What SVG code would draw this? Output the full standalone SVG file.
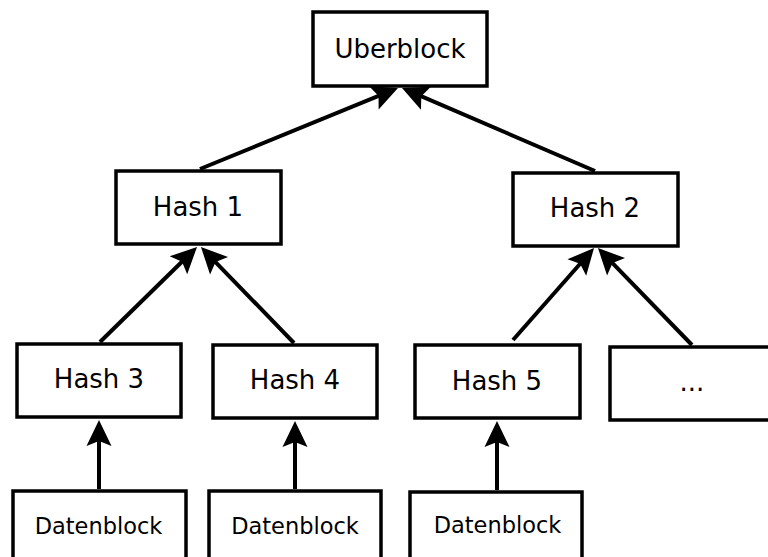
<svg xmlns="http://www.w3.org/2000/svg" width="768" height="557" viewBox="0 0 768 557">
<defs>
<style>
.box{fill:#fff;stroke:#000;stroke-width:3.5}
.lbl{font-family:"DejaVu Sans",sans-serif;font-size:26px;fill:#000;text-anchor:middle}
.small{font-size:22.5px}
.edge{stroke:#000;stroke-width:4;fill:none;marker-end:url(#arr)}
</style>
<marker id="arr" markerUnits="userSpaceOnUse" orient="auto" refX="0" refY="0" markerWidth="40" markerHeight="40" overflow="visible">
<path d="M15,0 L-11,-12.5 L-6,0 L-11,12.5 Z" fill="#000"/>
</marker>
</defs>
<rect width="768" height="557" fill="#fff"/>
<g id="connectors">
<line class="edge" x1="200" y1="169" x2="384.1" y2="93.7"/>
<line class="edge" x1="595" y1="171" x2="415.8" y2="93.9"/>
<line class="edge" x1="100" y1="342" x2="186.3" y2="257.5"/>
<line class="edge" x1="294" y1="343" x2="211.4" y2="257.8"/>
<line class="edge" x1="513" y1="340" x2="584.1" y2="259.3"/>
<line class="edge" x1="692" y1="345" x2="608.4" y2="258.8"/>
<line class="edge" x1="99" y1="489" x2="99" y2="435"/>
<line class="edge" x1="295" y1="489" x2="295" y2="436"/>
<line class="edge" x1="497" y1="490" x2="497" y2="436"/>
</g>
<g id="uberblock"><rect class="box" x="313" y="12" width="174" height="74"/><text class="lbl" x="400" y="58">Uberblock</text></g>
<g id="hash1"><rect class="box" x="116" y="171" width="165" height="73"/><text class="lbl" x="198" y="216">Hash 1</text></g>
<g id="hash2"><rect class="box" x="513" y="173" width="165" height="73"/><text class="lbl" x="595" y="217">Hash 2</text></g>
<g id="hash3"><rect class="box" x="17" y="344" width="164" height="73"/><text class="lbl" x="99" y="388">Hash 3</text></g>
<g id="hash4"><rect class="box" x="213" y="345" width="164" height="73"/><text class="lbl" x="295" y="389">Hash 4</text></g>
<g id="hash5"><rect class="box" x="415" y="345" width="165" height="73"/><text class="lbl" x="497" y="390">Hash 5</text></g>
<g id="more"><rect class="box" x="610" y="347" width="164" height="73"/><text class="lbl" x="692" y="391">...</text></g>
<g id="daten1"><rect class="box" x="13" y="491" width="173" height="80"/><text class="lbl small" x="98.5" y="534">Datenblock</text></g>
<g id="daten2"><rect class="box" x="209" y="491" width="172" height="80"/><text class="lbl small" x="295" y="534">Datenblock</text></g>
<g id="daten3"><rect class="box" x="410" y="492" width="172" height="80"/><text class="lbl small" x="497.5" y="533">Datenblock</text></g>
</svg>
